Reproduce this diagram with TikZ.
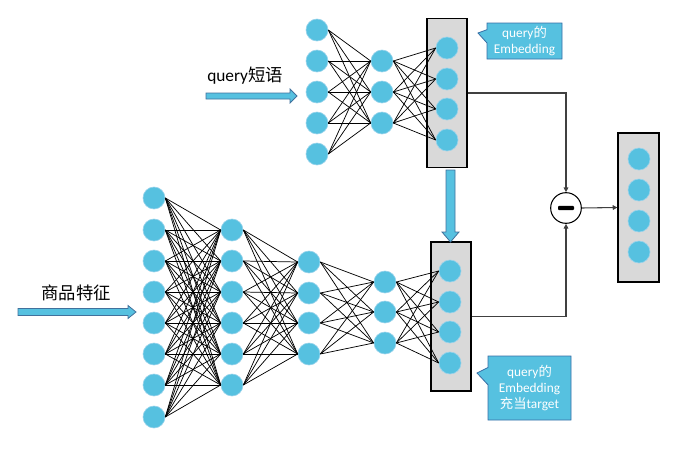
\documentclass[tikz,border=0pt]{standalone}
\usepackage{fontspec}
\setmainfont{Carlito}
\newfontfamily\cjk{Noto Sans CJK SC}
\usetikzlibrary{shapes.callouts,arrows.meta}
\definecolor{nb}{RGB}{86,193,224}
\definecolor{nbe}{RGB}{150,210,235}
\definecolor{boxg}{RGB}{217,217,217}
\definecolor{arrb}{RGB}{65,113,156}
\definecolor{calb}{RGB}{55,110,165}
\begin{document}
\begin{tikzpicture}[x=0.75pt,y=-0.75pt,
 neuron/.style={circle,fill=nb,draw=nbe,line width=0.5pt,minimum size=16.5pt,inner sep=0pt},
 layerbox/.style={draw=black,fill=boxg,line width=0.9pt,inner sep=0pt,minimum width=30pt,minimum height=112pt},
 edge/.style={draw=black,line width=0.55pt},
 link/.style={draw=black!75,line width=0.8pt},
 tip/.style={-{Triangle[length=3.5pt,width=3.5pt]}},
 callbox/.style={rectangle callout,fill=nb,draw=calb,line width=0.6pt,text=white,font=\fontsize{10}{11.7}\selectfont,align=center,inner sep=0pt},
 blockarrow/.style={fill=nb,draw=arrb,line width=0.6pt},
 lbl/.style={font=\fontsize{13}{15}\selectfont,inner sep=0pt}
]
\useasboundingbox (0,0) rectangle (683,450);
% boxes
\node[layerbox] (tbox) at (447,93) {};
\node[layerbox,minimum height=111.75pt] (bbox) at (451,316.5) {};
\node[layerbox,minimum width=30.75pt,minimum height=111.75pt] (obox) at (638.5,207.5) {};
% top network
\foreach \y [count=\i] in {30,61,92,123,154} \node[neuron] (a1-\i) at (317,\y) {};
\foreach \y [count=\i] in {61,92,123} \node[neuron] (a2-\i) at (382,\y) {};
\foreach \y [count=\i] in {48,79,109,140} \node[neuron] (a3-\i) at (447,\y) {};
\foreach \i in {1,...,5} \foreach \j in {1,...,3} \draw[edge] (a1-\i.east) -- (a2-\j.west);
\foreach \i in {1,...,3} \foreach \j in {1,...,4} \draw[edge] (a2-\i.east) -- (a3-\j.west);
% bottom network
\foreach \y [count=\i] in {198,230,261,292,323,354,385,417} \node[neuron] (b1-\i) at (154,\y) {};
\foreach \y [count=\i] in {230,261,292,323,354,385} \node[neuron] (b2-\i) at (232,\y) {};
\foreach \y [count=\i] in {262,293,323,354} \node[neuron] (b3-\i) at (309,\y) {};
\foreach \y [count=\i] in {282,312,343} \node[neuron] (b4-\i) at (385,\y) {};
\foreach \y [count=\i] in {271,302,332,363} \node[neuron] (b5-\i) at (450,\y) {};
\foreach \i in {1,...,8} \foreach \j in {1,...,6} \draw[edge] (b1-\i.east) -- (b2-\j.west);
\foreach \i in {1,...,6} \foreach \j in {1,...,4} \draw[edge] (b2-\i.east) -- (b3-\j.west);
\foreach \i in {1,...,4} \foreach \j in {1,...,3} \draw[edge] (b3-\i.east) -- (b4-\j.west);
\foreach \i in {1,...,3} \foreach \j in {1,...,4} \draw[edge] (b4-\i.east) -- (b5-\j.west);
% output
\foreach \y [count=\i] in {159,190,221,252} \node[neuron] (o-\i) at (639,\y) {};
% minus
\node[circle,draw=black,fill=white,line width=0.8pt,minimum size=23pt,inner sep=0pt] (minus) at (566,208) {};
\node[fill=black,rounded corners=0.8pt,minimum width=12pt,minimum height=3.2pt,inner sep=0pt] (bar) at (minus) {};
\draw[link,tip] (tbox.east) -| (minus.north);
\draw[link,tip] (bbox.east) -| (minus.south);
\draw[link,tip] (minus.east) -- (obox.west);
% block arrows
\draw[blockarrow] (206,93) -- (290,93) -- (290,89) -- (297,96) -- (290,103) -- (290,99) -- (206,99) -- cycle;
\draw[blockarrow] (18,308.5) -- (128,308.5) -- (128,305.5) -- (136,312) -- (128,318.5) -- (128,315.5) -- (18,315.5) -- cycle;
\draw[blockarrow] (446,170) -- (446,232) -- (442,232) -- (450.5,242) -- (459,232) -- (455,232) -- (455,170) -- cycle;
% labels
\node[lbl] (ql) at (245,76) {query{\cjk 短语}};
\node[lbl] (gl) at (76,293) {\cjk 商品特征};
% callouts
\node[callbox,minimum width=56.25pt,minimum height=27pt,callout absolute pointer={(478,33)},callout pointer width=10pt] (c1) at (524.5,41) {query{\cjk 的}\\Embedding};
\node[callbox,minimum width=62.25pt,minimum height=48pt,callout absolute pointer={(477,373)},callout pointer width=13pt] (c2) at (529.5,388) {query{\cjk 的}\\Embedding\\{\cjk 充当}target};
\end{tikzpicture}
\end{document}
